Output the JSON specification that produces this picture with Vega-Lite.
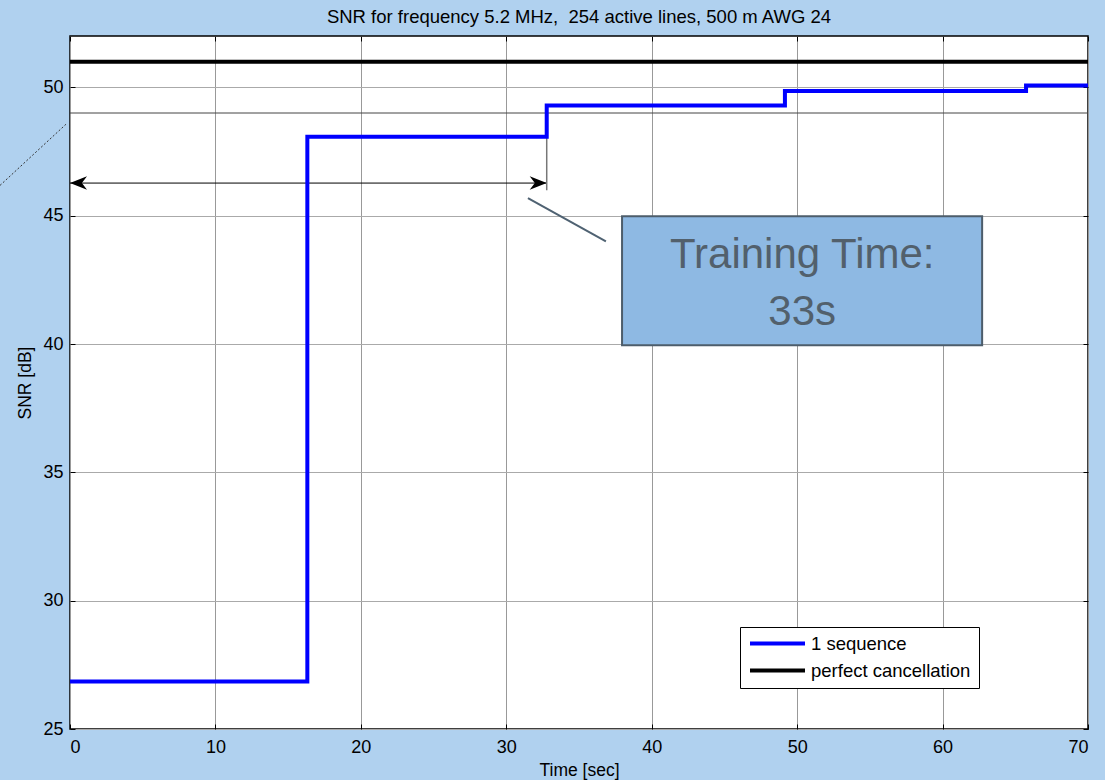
{
  "$schema": "https://vega.github.io/schema/vega-lite/v6.json",
  "width": 1018,
  "height": 693,
  "autosize": {"type": "none"},
  "padding": {"left": 70, "top": 36, "right": 17, "bottom": 51},
  "background": "#b0d1ef",
  "title": {
    "text": "SNR for frequency 5.2 MHz,\u00a0 254 active lines, 500 m AWG 24",
    "fontSize": 18.5,
    "font": "Liberation Sans",
    "fontWeight": "normal",
    "color": "black",
    "offset": 9,
    "anchor": "middle"
  },
  "config": {
    "view": {"fill": "white", "stroke": "black", "strokeWidth": 1.5},
    "font": "Liberation Sans",
    "axis": {
      "labelFont": "Liberation Sans",
      "labelFontSize": 18,
      "labelColor": "black",
      "titleFont": "Liberation Sans",
      "titleFontSize": 17.5,
      "titleFontWeight": "normal",
      "titleColor": "black",
      "domain": false,
      "tickColor": "black",
      "tickSize": -5,
      "tickWidth": 1
    }
  },
  "datasets": {
    "snr": [
      {"t": 0, "snr": 26.85, "series": "1 sequence"},
      {"t": 16.32, "snr": 48.07, "series": "1 sequence"},
      {"t": 32.78, "snr": 49.29, "series": "1 sequence"},
      {"t": 49.16, "snr": 49.86, "series": "1 sequence"},
      {"t": 65.74, "snr": 50.07, "series": "1 sequence"},
      {"t": 70, "snr": 50.07, "series": "1 sequence"},
      {"t": 0, "snr": 51, "series": "perfect cancellation"},
      {"t": 70, "snr": 51, "series": "perfect cancellation"}
    ],
    "box": [{"t1": 37.96, "t2": 62.72, "s1": 39.95, "s2": 44.98}],
    "boxtext": [
      {"t": 50.35, "snr": 42.95, "label": "Training Time:"},
      {"t": 50.35, "snr": 40.73, "label": "33s"}
    ],
    "arrow": [{"t1": 0, "t2": 32.78, "snr": 46.27}],
    "heads": [
      {"t": 0, "snr": 46.27, "dir": "L"},
      {"t": 32.78, "snr": 46.27, "dir": "R"}
    ],
    "marker": [{"t": 32.78, "s1": 45.99, "s2": 48.07}],
    "callout": [{"t1": 31.49, "s1": 45.68, "t2": 36.85, "s2": 44.0}],
    "dotted": [{"t1": -4.81, "s1": 46.18, "t2": -0.28, "s2": 48.56}],
    "level": [{"snr": 49}]
  },
  "layer": [
    {
      "data": {"name": "level"},
      "mark": {"type": "rule", "color": "#444444", "strokeWidth": 1},
      "encoding": {
        "y": {"field": "snr", "type": "quantitative", "scale": {"domain": [25, 52], "nice": false, "zero": false}, "axis": null}
      }
    },
    {
      "data": {"name": "box"},
      "mark": {"type": "rect", "fill": "#8eb9e3", "stroke": "#4d5d6b", "strokeWidth": 2},
      "encoding": {
        "x": {"field": "t1", "type": "quantitative", "scale": {"domain": [0, 70], "nice": false, "zero": false},
              "axis": {"orient": "top", "labels": false, "grid": false, "title": null, "values": [0, 10, 20, 30, 40, 50, 60, 70]}},
        "x2": {"field": "t2"},
        "y": {"field": "s1", "type": "quantitative",
              "axis": {"orient": "right", "labels": false, "grid": false, "title": null, "values": [25, 30, 35, 40, 45, 50]}},
        "y2": {"field": "s2"}
      }
    },
    {
      "data": {"name": "boxtext"},
      "mark": {"type": "text", "font": "Liberation Sans", "fontSize": 42, "color": "#52606c", "baseline": "alphabetic", "align": "center"},
      "encoding": {
        "x": {"field": "t", "type": "quantitative", "axis": null},
        "y": {"field": "snr", "type": "quantitative", "axis": null},
        "text": {"field": "label"}
      }
    },
    {
      "data": {"name": "arrow"},
      "mark": {"type": "rule", "color": "black", "strokeWidth": 1},
      "encoding": {
        "x": {"field": "t1", "type": "quantitative", "axis": null},
        "x2": {"field": "t2"},
        "y": {"field": "snr", "type": "quantitative", "axis": null}
      }
    },
    {
      "data": {"name": "heads"},
      "mark": {"type": "point", "filled": true, "color": "black", "size": 1156, "opacity": 1, "strokeWidth": 0},
      "encoding": {
        "x": {"field": "t", "type": "quantitative", "axis": null},
        "y": {"field": "snr", "type": "quantitative", "axis": null},
        "shape": {"field": "dir", "type": "nominal", "legend": null,
                  "scale": {"domain": ["L", "R"], "range": ["M0,0L1,-0.4L0.7,0L1,0.4Z", "M0,0L-1,-0.4L-0.7,0L-1,0.4Z"]}}
      }
    },
    {
      "data": {"name": "marker"},
      "mark": {"type": "rule", "color": "#777777", "strokeWidth": 1.5},
      "encoding": {
        "x": {"field": "t", "type": "quantitative", "axis": null},
        "y": {"field": "s1", "type": "quantitative", "axis": null},
        "y2": {"field": "s2"}
      }
    },
    {
      "data": {"name": "callout"},
      "mark": {"type": "rule", "color": "#4f6272", "strokeWidth": 2},
      "encoding": {
        "x": {"field": "t1", "type": "quantitative", "axis": null},
        "x2": {"field": "t2"},
        "y": {"field": "s1", "type": "quantitative", "axis": null},
        "y2": {"field": "s2"}
      }
    },
    {
      "data": {"name": "dotted"},
      "mark": {"type": "rule", "color": "#333333", "strokeWidth": 1, "strokeDash": [2, 2], "clip": false},
      "encoding": {
        "x": {"field": "t1", "type": "quantitative", "axis": null},
        "x2": {"field": "t2"},
        "y": {"field": "s1", "type": "quantitative", "axis": null},
        "y2": {"field": "s2"}
      }
    },
    {
      "data": {"name": "snr"},
      "mark": {"type": "line", "strokeWidth": 4, "interpolate": "step-after", "clip": true},
      "encoding": {
        "x": {"field": "t", "type": "quantitative",
              "axis": {"orient": "bottom", "title": "Time [sec]", "values": [0, 10, 20, 30, 40, 50, 60, 70],
                       "grid": true, "gridColor": "#999999", "gridOpacity": 1, "gridWidth": 1,
                       "labelPadding": 14, "titleY": 41, "titleBaseline": "middle"}},
        "y": {"field": "snr", "type": "quantitative",
              "axis": {"orient": "left", "title": "SNR [dB]", "values": [25, 30, 35, 40, 45, 50],
                       "grid": true, "gridColor": "#aaaaaa", "gridOpacity": 1, "gridWidth": 1,
                       "labelPadding": 12, "titleX": -45, "titleBaseline": "middle"}},
        "color": {"field": "series", "type": "nominal",
                  "scale": {"domain": ["1 sequence", "perfect cancellation"], "range": ["#0000ff", "#000000"]},
                  "legend": {"orient": "none", "legendX": 670, "legendY": 591, "title": null,
                             "symbolType": "stroke", "symbolSize": 3025, "symbolStrokeWidth": 4,
                             "labelFontSize": 18.5, "labelFont": "Liberation Sans", "labelColor": "black",
                             "fillColor": "white", "strokeColor": "black", "padding": 8, "rowPadding": 8,
                             "clipHeight": 17, "labelOffset": 4}}
      }
    }
  ],
  "resolve": {"axis": {"x": "independent", "y": "independent"}}
}
